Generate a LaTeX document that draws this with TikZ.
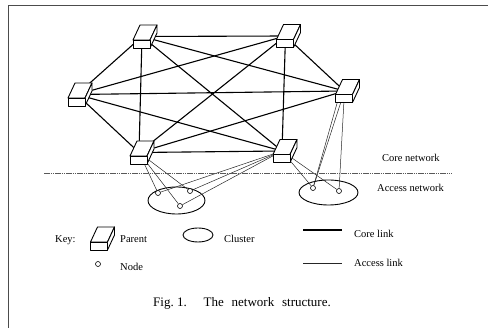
\documentclass[tikz,border=0pt]{standalone}
\usepackage{fontspec}
\setmainfont{Liberation Serif}
\usetikzlibrary{backgrounds,shapes.geometric}
\tikzset{
  corelink/.style={line width=1.1pt, black},
  accesslink/.style={line width=0.5pt, black!85},
  member/.style={circle, draw, line width=0.6pt, fill=white, inner sep=0pt, minimum size=5pt},
  cluster/.style={ellipse, draw, line width=0.9pt},
  lbl/.style={anchor=west, inner sep=0pt, font=\fontsize{10.5}{12}\selectfont},
  boxface/.style={draw, line width=0.9pt, fill=white, line join=round},
}
\newcommand\parentbox[2]{%
  \node[coordinate] (#1) at (#2) {};
  \begin{scope}[shift={(#2)}]
    \draw[boxface] (-9,3.5) -- (8,3.5) -- (15,-11.5) -- (-2,-11.5) -- cycle;
    \draw[boxface] (8,3.5) -- (15,-11.5) -- (15,-3.5) -- (8,11.5) -- cycle;
    \draw[boxface] (-9,3.5) rectangle (8,11.5);
  \end{scope}}
\begin{document}
\begin{tikzpicture}[x=1pt,y=-1pt]
\useasboundingbox (0,0) rectangle (488,328);
% frame
\draw[line width=0.8pt, black!70] (8,328) -- (8,5) -- (488,5);
% parents
\parentbox{TL}{142,36.5}
\parentbox{TR}{285.5,36}
\parentbox{L}{77,94.5}
\parentbox{R}{344.5,91}
\parentbox{BL}{139,152.5}
\parentbox{BR}{282,151}
% cluster members
\node[member] (a1) at (158,193) {};
\node[member] (a2) at (190,191) {};
\node[member] (a3) at (180,206) {};
\node[member] (b1) at (313,188) {};
\node[member] (b2) at (339,191) {};
\begin{scope}[on background layer]
  \node[cluster, minimum width=57pt, minimum height=27pt] (c1) at (176.5,200.5) {};
  \node[cluster, minimum width=59pt, minimum height=25pt] (c2) at (328.5,192.5) {};
  % core links
  \foreach \u/\v in {TL/TR,TL/L,TL/BL,TL/R,TL/BR,TR/L,TR/R,TR/BR,TR/BL,L/R,L/BL,L/BR,R/BL,BL/BR}
    \draw[corelink] (\u) -- (\v);
  % access links
  \foreach \u/\v in {BL/a1,BL/a2,BL/a3,BR/a1,BR/a2,BR/a3,BR/b1,BR/b2,R/b1,R/b2}
    \draw[accesslink] (\u) -- (\v);
  \draw[accesslink] ([xshift=-4pt]R) -- (b1);
  % boundary
  \coordinate (d1) at (44,173);
  \coordinate (d2) at (452,173);
  \draw[line width=0.7pt, black!65, dash pattern=on 1.5pt off 0.7pt] (d1) -- (d2);
\end{scope}
\node[lbl] (core) at (382,158) {Core network};
\node[lbl] (acc) at (377,188) {Access network};
% key
\node[lbl] (key) at (55,240) {Key:};
\parentbox{KP}{99.5,238.5}
\node[lbl] (kpt) at (120,239) {Parent};
\node[member] (kn) at (98,264) {};
\node[lbl] (knt) at (120,267) {Node};
\node[cluster, minimum width=30pt, minimum height=14pt] (kc) at (198,235) {};
\node[lbl] (kct) at (224,239) {Cluster};
\coordinate (kl1a) at (303,230);
\coordinate (kl1b) at (342,230);
\draw[corelink] (kl1a) -- (kl1b);
\node[lbl] (klt1) at (354,234) {Core link};
\coordinate (kl2a) at (303,263);
\coordinate (kl2b) at (342,263);
\draw[accesslink] (kl2a) -- (kl2b);
\node[lbl] (klt2) at (354,263) {Access link};
% caption
\node[anchor=west, inner sep=0pt, font=\fontsize{13}{15}\selectfont] (cap) at (153,303) {Fig.~1.\hspace{1.3em}The\hspace{0.6em}network\hspace{0.6em}structure.};
\end{tikzpicture}
\end{document}
